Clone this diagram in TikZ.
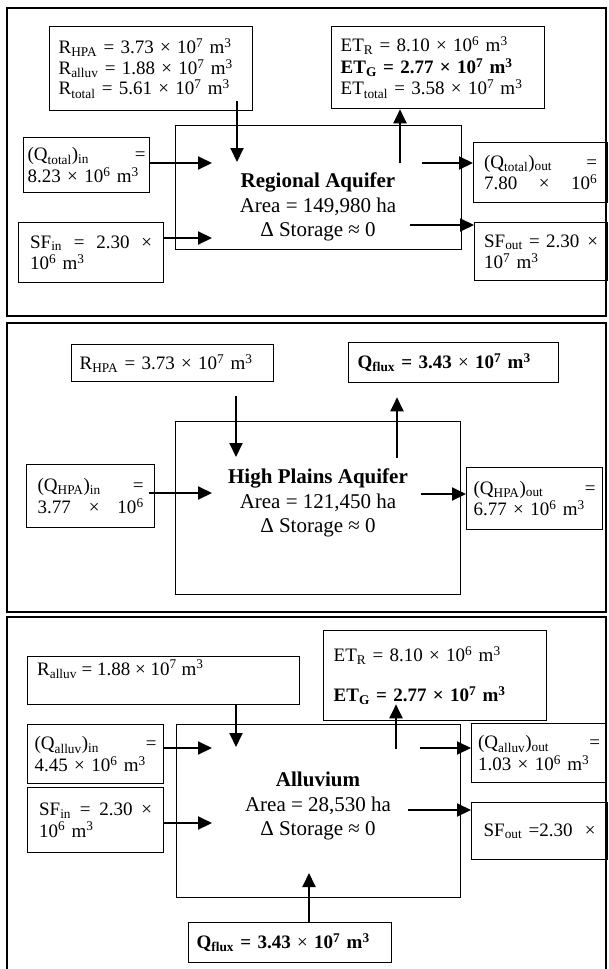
\documentclass[tikz,border=0pt]{standalone}
\usepackage{fontspec}
\setmainfont{Liberation Serif}
\usetikzlibrary{arrows.meta}
\newcommand\subx[1]{\textsubscript{#1}}
\newcommand\supx[1]{\textsuperscript{#1}}
\begin{document}
\begin{tikzpicture}[x=1pt,y=-1pt,
 panel/.style={draw,line width=1.5pt},
 box/.style={draw,line width=1.3pt,anchor=north west,inner sep=0pt,align=left,font=\fontsize{19}{21.5}\selectfont},
 mainbox/.style={draw,line width=1.4pt,anchor=north west,inner sep=0pt},
 maintxt/.style={align=center,font=\fontsize{21}{24.5}\selectfont,inner sep=0pt},
 plaintxt/.style={anchor=base west,inner sep=0pt,font=\fontsize{19}{21.5}\selectfont},
 arr/.style={line width=2pt,-{Triangle[length=14pt,width=13pt]}}]
\useasboundingbox (0,0) rectangle (608,969);
% panels
\draw[panel] (7,8) rectangle (606,316);
\draw[panel] (7,323) rectangle (606,612);
\draw[panel] (7,969) -- (7,617) -- (606,617) -- (606,969);

% ---------- panel 1 ----------
\node[box,minimum width=203pt,minimum height=84pt,text width=185pt,font=\fontsize{19}{20.5}\selectfont] (rb) at (49,26)
 {R\subx{HPA} = 3.73 × 10\supx{7} m\supx{3}\\R\subx{alluv} = 1.88 × 10\supx{7} m\supx{3}\\R\subx{total} = 5.61 × 10\supx{7} m\supx{3}};
\node[box,minimum width=213pt,minimum height=82pt,text width=195pt] (et) at (331,26)
 {ET\subx{R} = 8.10 × 10\supx{6} m\supx{3}\\\textbf{ET\subx{G} = 2.77 × 10\supx{7} m\supx{3}}\\ET\subx{total} = 3.58 × 10\supx{7} m\supx{3}};
\node[box,minimum width=126pt,minimum height=55pt,text width=118pt] (qin) at (23,137)
 {(Q\subx{total})\subx{in}\hfill=\\8.23 × 10\supx{6} m\supx{3}};
\node[box,minimum width=145pt,minimum height=60pt,text width=122pt] (sfin) at (18,222)
 {SF\subx{in}\hfill=\hfill2.30\hfill×\\10\supx{6} m\supx{3}};
\node[mainbox,minimum width=286pt,minimum height=124pt] (ra) at (175,125) {};
\node[maintxt] (rat) at (318,207) {\textbf{Regional Aquifer}\\Area = 149,980 ha\\Δ Storage ≈ 0};
\node[box,minimum width=134pt,minimum height=60pt,text width=113pt] (qout) at (473,142)
 {(Q\subx{total})\subx{out}\hfill=\\7.80\hfill×\hfill10\supx{6}};
\node[box,minimum width=133pt,minimum height=58pt,text width=114pt] (sfout) at (474,222)
 {SF\subx{out} = 2.30\hfill×\\10\supx{7} m\supx{3}};

\coordinate (t1) at (237,162);
\coordinate (s2) at (400,163);
\coordinate (t3) at (212,163);
\coordinate (t4) at (212,238);
\coordinate (s5) at (422,163);
\coordinate (s6) at (410,225);
\draw[arr] ([yshift=10pt]rb.south -| t1) -- (t1);
\draw[arr] (s2) -- (et.south -| s2);
\draw[arr] (qin.east |- t3) -- (t3);
\draw[arr] (sfin.east |- t4) -- (t4);
\draw[arr] (s5) -- (qout.west |- s5);
\draw[arr] (s6) -- (sfout.west |- s6);

% ---------- panel 2 ----------
\node[box,minimum width=202pt,minimum height=37pt,text width=186pt] (rh) at (71,344)
 {R\subx{HPA} = 3.73 × 10\supx{7} m\supx{3}};
\node[box,minimum width=210pt,minimum height=40pt,text width=192pt] (qf) at (348,342)
 {\textbf{Q\subx{flux} = 3.43} × \textbf{10\supx{7} m\supx{3}}};
\node[box,minimum width=128pt,minimum height=63pt,text width=106pt] (qhin) at (26,464)
 {(Q\subx{HPA})\subx{in}\hfill=\\3.77\hfill×\hfill10\supx{6}};
\node[mainbox,minimum width=285pt,minimum height=173pt] (hp) at (175,421) {};
\node[maintxt] (hpt) at (318,503) {\textbf{High Plains Aquifer}\\Area = 121,450 ha\\Δ Storage ≈ 0};
\node[box,minimum width=136pt,minimum height=62pt,text width=122pt] (qhout) at (466,467)
 {(Q\subx{HPA})\subx{out}\hfill=\\6.77 × 10\supx{6} m\supx{3}};

\coordinate (t7) at (236,457);
\coordinate (s8) at (397,458);
\coordinate (t9) at (212,493);
\coordinate (s10) at (421,494);
\draw[arr] ([yshift=-14pt]rh.south -| t7) -- (t7);
\draw[arr] (s8) -- ([yshift=-14pt]qf.south -| s8);
\draw[arr] ([xshift=-6pt]qhin.east |- t9) -- (t9);
\draw[arr] (s10) -- (qhout.west |- s10);

% ---------- panel 3 ----------
\node[box,minimum width=272pt,minimum height=48pt] (ral) at (27,656) {};
\node[plaintxt] (ralt) at (37,675) {R\subx{alluv} = 1.88 × 10\supx{7} m\supx{3}};
\node[box,minimum width=223pt,minimum height=90pt,text width=203pt] (et3) at (323,630)
 {ET\subx{R} = 8.10 × 10\supx{6} m\supx{3}\\[19pt]\textbf{ET\subx{G} = 2.77 × 10\supx{7} m\supx{3}}};
\node[box,minimum width=136pt,minimum height=59pt,text width=122pt] (qain) at (27,724)
 {(Q\subx{alluv})\subx{in}\hfill=\\4.45 × 10\supx{6} m\supx{3}};
\node[box,minimum width=136pt,minimum height=65pt,text width=113pt] (sfin3) at (27,787)
 {SF\subx{in}\hfill=\hfill2.30\hfill×\\10\supx{6} m\supx{3}};
\node[mainbox,minimum width=284pt,minimum height=173pt] (al) at (176,724) {};
\node[maintxt] (alt) at (318,806) {\textbf{Alluvium}\\Area = 28,530 ha\\Δ Storage ≈ 0};
\node[box,minimum width=135pt,minimum height=59pt,text width=122pt] (qaout) at (471,723)
 {(Q\subx{alluv})\subx{out}\hfill=\\1.03 × 10\supx{6} m\supx{3}};
\node[box,minimum width=136pt,minimum height=57pt,text width=112pt] (sfout3) at (471,802)
 {SF\subx{out} =2.30\hfill×};
\node[box,minimum width=203pt,minimum height=40pt,text width=187pt] (qf3) at (188,922)
 {\textbf{Q\subx{flux} = 3.43} × \textbf{10\supx{7} m\supx{3}}};

\coordinate (t11) at (236,747);
\coordinate (s12) at (396,749);
\coordinate (t13) at (212,748);
\coordinate (t14) at (212,823);
\coordinate (s15) at (420,748);
\coordinate (s16) at (408,810);
\coordinate (t17) at (309,873);
\draw[arr] (ral.south -| t11) -- (t11);
\draw[arr] (s12) -- ([yshift=17pt]et3.south -| s12);
\draw[arr] (qain.east |- t13) -- (t13);
\draw[arr] (sfin3.east |- t14) -- (t14);
\draw[arr] (s15) -- (qaout.west |- s15);
\draw[arr] (s16) -- (sfout3.west |- s16);
\draw[arr] (qf3.north -| t17) -- (t17);
\end{tikzpicture}
\end{document}
